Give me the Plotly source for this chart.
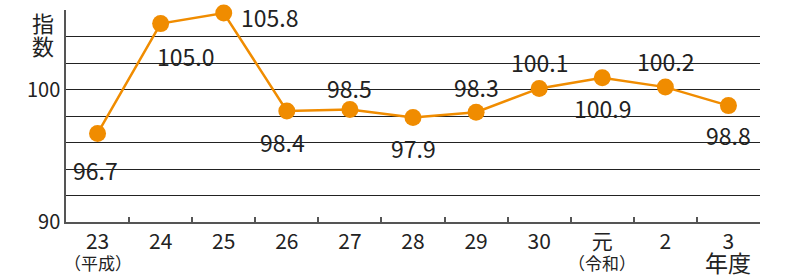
import plotly.graph_objects as go

years = ["23", "24", "25", "26", "27", "28", "29", "30", "元", "2", "3"]
tick_labels = ["23", "24", "25", "26", "27", "28", "29", "30", "元", "2", "3"]
era_notes = {0: "（平成）", 8: "（令和）"}
unit_label = "年度"
index_values = [96.7, 105.0, 105.8, 98.4, 98.5, 97.9, 98.3, 100.1, 100.9, 100.2, 98.8]
value_labels = ["96.7", "105.0", "105.8", "98.4", "98.5", "97.9", "98.3", "100.1", "100.9", "100.2", "98.8"]
y_tick_vals = [90, 92, 94, 96, 98, 100, 102, 104, 106]
y_tick_text = ["90", "", "", "", "", "100", "", "", ""]

# label offsets in pixels (style, not data)
label_dx = [-2, 25, 46, -4, 0, 0, 0, 0, 0, 0, 0]
label_dy = [-37, -32, -4, -31, 22, -30, 25, 26, -30, 26, -29]

FONT = "Noto Sans CJK JP"
ORANGE = "#F08C00"
TXT = "#222"

fig = go.Figure()
fig.add_trace(go.Scatter(
    x=years, y=index_values, mode="lines+markers",
    line=dict(color=ORANGE, width=2.5),
    marker=dict(color=ORANGE, size=17),
    cliponaxis=False, showlegend=False,
))

for i, (y, t, dx, dy) in enumerate(zip(index_values, value_labels, label_dx, label_dy)):
    fig.add_annotation(x=i, y=y, text=t, showarrow=False, xshift=dx, yshift=dy,
                       font=dict(family=FONT, size=23, color=TXT))

# second-line labels under the category axis
for i, note in era_notes.items():
    fig.add_annotation(x=i, xref="x", y=0, yref="paper", yanchor="middle", yshift=-40,
                       text=note, showarrow=False, font=dict(family=FONT, size=17, color=TXT))
fig.add_annotation(x=len(years) - 1, xref="x", y=0, yref="paper", yanchor="middle", yshift=-40,
                   text=unit_label, showarrow=False, font=dict(family=FONT, size=23, color=TXT))

for ch, py in (("指", 0.945), ("数", 0.835)):
    fig.add_annotation(xref="paper", yref="paper", x=-0.033, y=py, xanchor="center", yanchor="middle",
                       text=ch, showarrow=False,
                       font=dict(family=FONT, size=22, color=TXT))

fig.update_layout(
    width=789, height=279,
    margin=dict(l=66, r=29, t=10, b=57),
    paper_bgcolor="white", plot_bgcolor="white",
    font=dict(family=FONT, color=TXT),
    xaxis=dict(
        type="category", tickmode="array", tickvals=years, ticktext=tick_labels,
        range=[-0.5, len(years) - 0.5], tickangle=0, automargin=False,
        tickson="boundaries", ticks="inside", ticklen=5, tickcolor="#555", tickwidth=1.5,
        showline=True, linecolor="#555", linewidth=1.5, showgrid=False,
        tickfont=dict(family=FONT, size=21, color=TXT),
    ),
    yaxis=dict(
        range=[90, 106.03], tickmode="array", tickvals=y_tick_vals, ticktext=y_tick_text,
        showgrid=True, gridcolor="#222", gridwidth=1, automargin=False,
        showline=True, linecolor="#555", linewidth=1.5, ticks="",
        tickfont=dict(family=FONT, size=20, color=TXT), zeroline=False,
    ),
)

fig.write_html("out.html", config={"displayModeBar": False},
               post_script="document.body.style.margin='0';document.body.style.overflow='hidden';")
